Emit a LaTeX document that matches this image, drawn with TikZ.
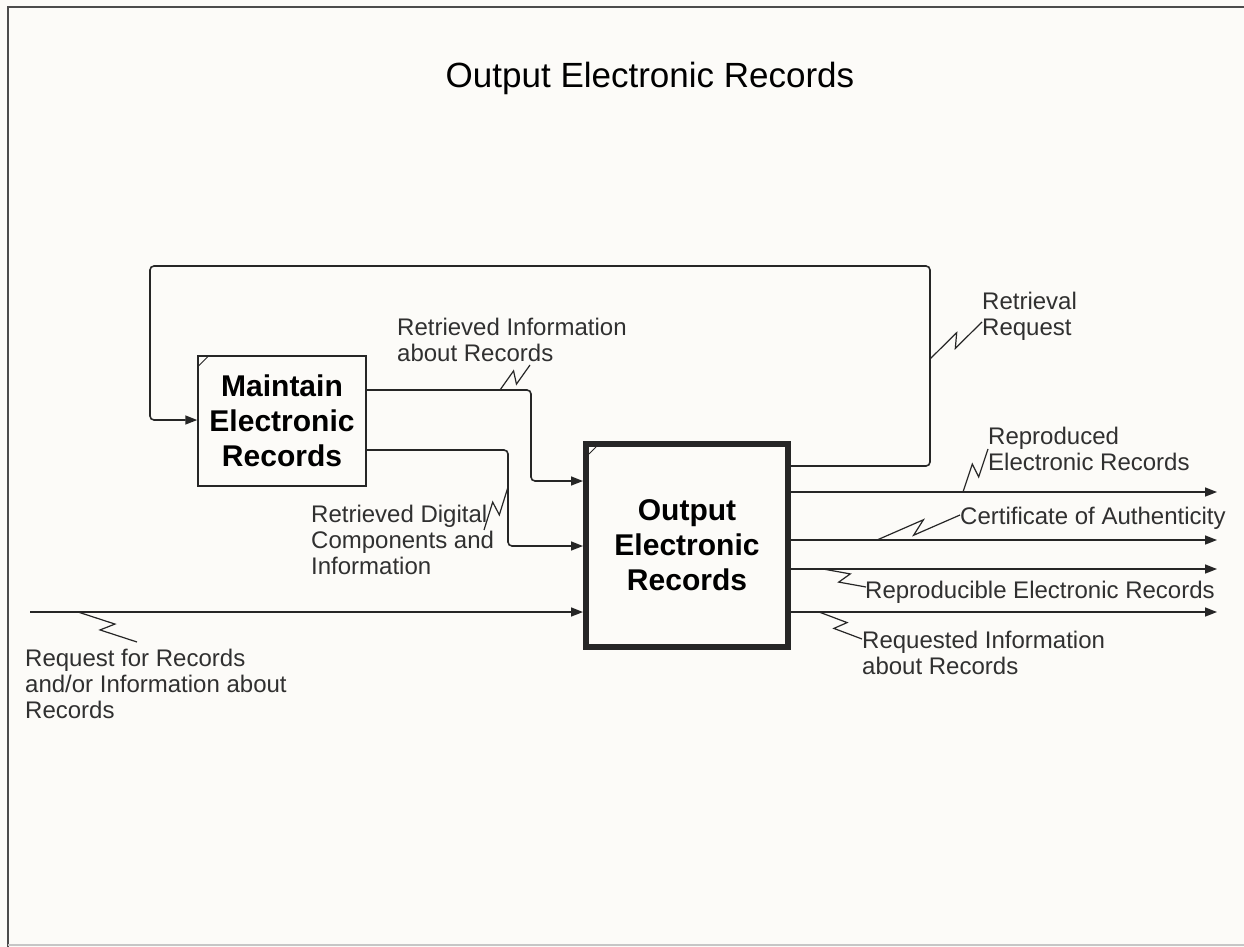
\documentclass[tikz,border=0pt]{standalone}
\usepackage{fontspec}
\setmainfont{Liberation Sans}
\usetikzlibrary{arrows.meta, calc}

\definecolor{ink}{HTML}{262626}
\definecolor{paper}{HTML}{FCFBF8}
\definecolor{txt}{HTML}{303030}

% lightning leader from a flow line to its label
\newcommand\zigzag[2]{%
  \draw[zig] (#1) -- ($(#1)!0.58!(#2)!6pt!90:(#2)$) -- ($(#1)!0.42!(#2)!6pt!-90:(#2)$) -- (#2);}

\begin{document}
\begin{tikzpicture}[
    x=1pt, y=-1pt,
    actbox/.style={rectangle, draw=ink, line width=1.5pt, fill=paper, inner sep=0pt, align=center,
                   text=black, font=\fontsize{30}{35}\selectfont\bfseries},
    lbl/.style={text=txt, font=\fontsize{24}{26}\selectfont, align=left, anchor=west, inner sep=0pt},
    flow/.style={draw=ink, line width=1.6pt, rounded corners=4pt, -{Triangle[length=12pt,width=9pt]}},
    zig/.style={draw=ink, line width=1.2pt},
]
\useasboundingbox (0,0) rectangle (1244,947);
\fill[paper] (0,0) rectangle (1244,947);
\draw[line width=2pt, gray!60!black] (8,947) -- (8,7) -- (1244,7);
\draw[line width=1.5pt, gray!45] (8,945) -- (1244,945);

\node[text=black, font=\fontsize{35}{40}\selectfont] (title) at (650,78) {Output Electronic Records};

% activities
\node[actbox, minimum width=168pt, minimum height=130pt] (mnt) at (282,421) {Maintain\\Electronic\\Records};
\node[actbox, line width=6pt, minimum width=202pt, minimum height=203pt] (out) at (687,545.5) {Output\\Electronic\\Records};
\draw[ink, line width=1pt] ($(mnt.north west)+(1,11)$) -- ($(mnt.north west)+(11,1)$);
\draw[ink, line width=0.8pt] ($(out.north west)+(6,13)$) -- ($(out.north west)+(13,6)$);

% free ends
\coordinate (in)  at (30,612);
\coordinate (o1)  at (1217,492);
\coordinate (o2)  at (1217,540);
\coordinate (o3)  at (1217,569);
\coordinate (o4)  at (1217,612);

% flows
\draw[flow] (out.east |- 0,466) -- (930,466) -- (930,266) -- (150,266) -- (150,420) -- (mnt.west |- 0,420);
\draw[flow] (mnt.east |- 0,390) -- (531,390) -- (531,481) -- (out.west |- 0,481);
\draw[flow] (mnt.east |- 0,450) -- (508,450) -- (508,546) -- (out.west |- 0,546);
\draw[flow] (in) -- (out.west |- in);
\draw[flow] (out.east |- o1) -- (o1);
\draw[flow] (out.east |- o2) -- (o2);
\draw[flow] (out.east |- o3) -- (o3);
\draw[flow] (out.east |- o4) -- (o4);

% labels
\node[lbl] (rr)   at (982,316) {Retrieval\\Request};
\node[lbl] (ri)   at (397,340) {Retrieved Information\\about Records};
\node[lbl] (rd)   at (311,540) {Retrieved Digital\\Components and\\Information};
\node[lbl] (req)  at (25,684)  {Request for Records\\and/or Information about\\Records};
\node[lbl] (rep)  at (988,449) {Reproduced\\Electronic Records};
\node[lbl] (cert) at (960,518) {Certificate of Authenticity};
\node[lbl] (rpb)  at (865,592) {Reproducible Electronic Records};
\node[lbl] (rq)   at (862,653) {Requested Information\\about Records};

% leader points on the lines
\coordinate (rrA)   at (930,359);
\coordinate (riA)   at (500,390);
\coordinate (rdA)   at (508,487);
\coordinate (reqA)  at (78,612);
\coordinate (repA)  at (963,492);
\coordinate (certA) at (877,540);
\coordinate (rpbA)  at (823,569);
\coordinate (rqA)   at (819,612);

\zigzag{rrA}{$(rr.west)+(0,6)$}
\zigzag{riA}{530,365}
\zigzag{rdA}{484,530}
\zigzag{reqA}{137,642}
\zigzag{repA}{rep.west}
\zigzag{certA}{$(cert.west)+(0,-3)$}
\zigzag{rpbA}{$(rpb.west)+(1,-5)$}
\zigzag{rqA}{$(rq.north west)+(0,8)$}
\end{tikzpicture}
\end{document}
